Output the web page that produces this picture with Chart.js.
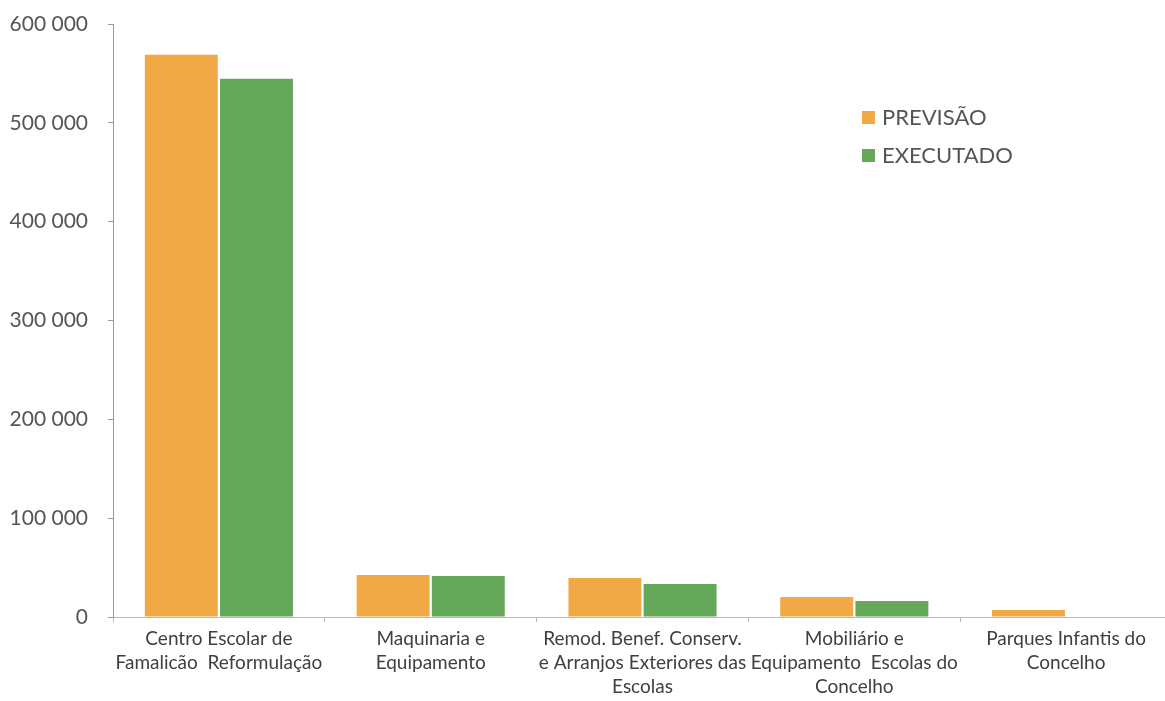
<!DOCTYPE html>
<html>
<head>
<meta charset="utf-8">
<script src="https://cdn.jsdelivr.net/npm/chart.js@4/dist/chart.umd.min.js"></script>
<style>
  html, body { margin: 0; padding: 0; background: #fff; overflow: hidden; }
  #wrap { position: relative; width: 1178px; height: 701px; }
</style>
</head>
<body>
<div id="wrap"><canvas id="c"></canvas></div>
<script>
const categories = [
  ["Centro Escolar de", "Famalicão  Reformulação"],
  ["Maquinaria e", "Equipamento"],
  ["Remod. Benef. Conserv.", "e Arranjos Exteriores das", "Escolas"],
  ["Mobiliário e", "Equipamento  Escolas do", "Concelho"],
  ["Parques Infantis do", "Concelho"]
];
const seriesNames = ["PREVISÃO", "EXECUTADO"];
const previsao = [569000, 42500, 39500, 20200, 7000];
const executado = [544500, 41500, 33400, 16200, 0];
const yTicks = [0, 100000, 200000, 300000, 400000, 500000, 600000];

const colors = ["#F1A945", "#66A85A"];
const FONT = "Lato";

const legendPlugin = {
  id: 'customLegend',
  afterDraw(chart) {
    const ctx = chart.ctx;
    const x0 = 862, y0 = 117, gap = 38;
    ctx.save();
    ctx.font = "22px " + FONT;
    ctx.textBaseline = "middle";
    chart.data.datasets.forEach((ds, i) => {
      const y = y0 + i * gap;
      ctx.fillStyle = ds.backgroundColor;
      ctx.fillRect(x0, y - 6, 13, 13);
      ctx.fillStyle = "#555555";
      ctx.fillText(ds.label, x0 + 20, y + 1);
    });
    ctx.restore();
  }
};

new Chart(document.getElementById('c'), {
  type: 'bar',
  data: {
    labels: categories,
    datasets: [
      { label: seriesNames[0], data: previsao, backgroundColor: colors[0] },
      { label: seriesNames[1], data: executado, backgroundColor: colors[1] }
    ]
  },
  options: {
    responsive: true,
    maintainAspectRatio: false,
    animation: false,
    layout: { padding: { top: 24, right: 6, left: 8, bottom: 0 } },
    datasets: { bar: { categoryPercentage: 0.71, barPercentage: 0.97 } },
    plugins: { legend: { display: false }, tooltip: { enabled: false } },
    scales: {
      x: {
        afterFit(axis) { axis.height = 84; },
        grid: { display: true, drawOnChartArea: false, tickLength: 5, color: "#BBBBBB", offset: true },
        border: { color: "#BBBBBB", width: 1 },
        ticks: { color: "#404040", font: { family: FONT, size: 19, lineHeight: 1.25 }, maxRotation: 0, autoSkip: false, padding: 5 }
      },
      y: {
        min: 0, max: 600000,
        afterFit(axis) { axis.width = 105; axis.paddingTop = 0; axis.paddingBottom = 0; },
        grid: { display: true, drawOnChartArea: false, tickLength: 5, color: "#999999" },
        border: { color: "#999999", width: 1 },
        afterBuildTicks(axis) { axis.ticks = yTicks.map(v => ({ value: v })); },
        ticks: {
          color: "#555555", font: { family: FONT, size: 21 }, padding: 20,
          callback: v => String(v).replace(/\B(?=(\d{3})+(?!\d))/g, " ")
        }
      }
    }
  },
  plugins: [legendPlugin]
});
</script>
</body>
</html>
